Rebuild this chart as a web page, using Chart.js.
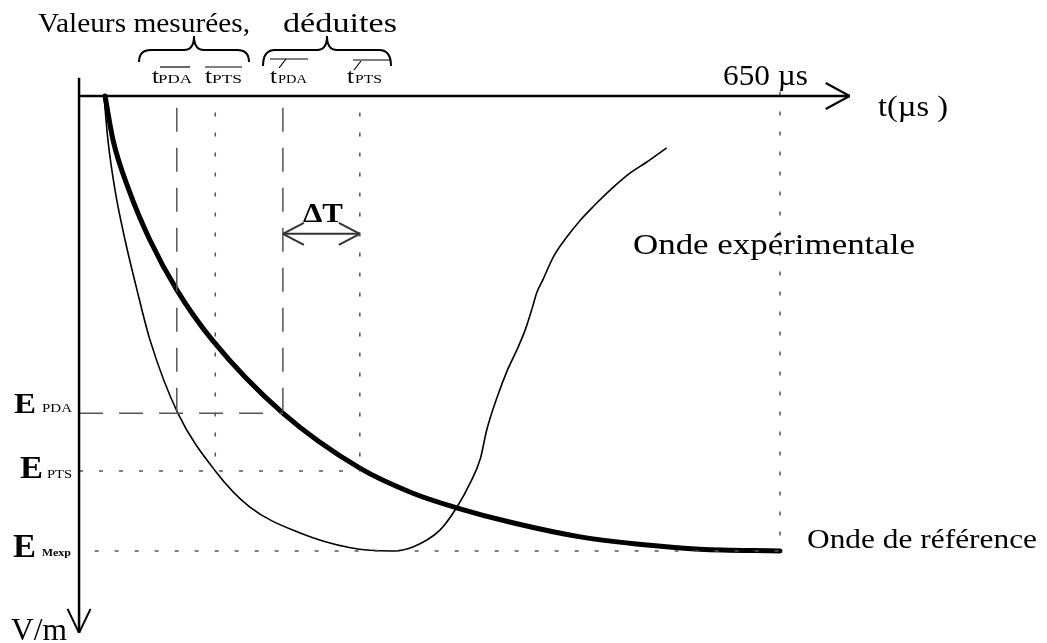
<!DOCTYPE html>
<html>
<head>
<meta charset="utf-8">
<script src="https://cdn.jsdelivr.net/npm/chart.js@4.4.1/dist/chart.umd.min.js"></script>
<style>
  html, body { margin: 0; padding: 0; background: #fff; }
  #wrap { width: 1047px; height: 643px; }
</style>
</head>
<body>
<div id="wrap"><canvas id="schema"></canvas></div>
<script>
// Onde de référence (trait épais) : temps en µs, champ en % de E_Mexp
const refTime  = [1, 8.7, 24, 44, 70, 104, 172, 246, 297, 339, 393, 458, 522, 573, 650];
const refField = [0, 9.7, 20.7, 31.6, 42.6, 53.6, 69.7, 81.8, 87.3, 90.5, 93.8, 96.9, 98.7, 99.6, 100];

// Onde expérimentale (trait fin)
const expTime  = [0, 3.8, 10.6, 20.2, 31.7, 44.2, 71, 107, 140, 188, 237, 277, 297, 323, 339, 352, 362, 368, 378, 388, 397, 405, 412, 416, 422, 432, 445, 458, 470, 489, 506, 522, 541];
const expField = [0, 9.7, 20.7, 31.6, 42.6, 53.6, 69.7, 82.4, 90.3, 96.0, 99.3, 100, 99.1, 95.4, 90.5, 85.1, 79.6, 73.4, 66.2, 60.2, 55.8, 51.4, 46.4, 43.3, 40.4, 35.4, 31.0, 27.3, 24.4, 20.2, 16.9, 14.5, 11.4];

// repères : t_PDA, t_PTS, t'_PDA, t'_PTS, 650 µs
const guideTimes = [70, 107, 172, 246, 650];
// niveaux : E_PDA, E_PTS, E_Mexp
const guideLevels = [69.7, 82.4, 100];

const axisTime = -24;     // position of the vertical axis
const guideTop = 2.6;     // guides start just under the time axis
const deltaLevel = 30.3;  // height of the ΔT arrow

const FONT = '"Liberation Serif", "Times New Roman", Tinos, Times, serif';
const GUIDE = '#555';

function pts(xs, ys) {
    return xs.map((x, i) => ({ x: x, y: ys[i] }));
}

function seg(x1, y1, x2, y2) {
    return [{ x: x1, y: y1 }, { x: x2, y: y2 }];
}

function guide(data, dash) {
    return {
        data: data,
        borderColor: GUIDE,
        borderWidth: 1.5,
        borderDash: dash,
        pointRadius: 0,
        tension: 0
    };
}

const DASH = [24, 16];
const DOT = [4, 16];

const datasets = [
    // dashed : PDA
    guide(seg(guideTimes[0], guideTop, guideTimes[0], guideLevels[0]), DASH),
    guide(seg(guideTimes[2], guideTop, guideTimes[2], guideLevels[0]), DASH),
    guide(seg(axisTime, guideLevels[0], guideTimes[2], guideLevels[0]), DASH),
    // dotted : PTS
    guide(seg(guideTimes[1], guideTop + 1, guideTimes[1], guideLevels[1]), DOT),
    guide(seg(guideTimes[3], guideTop + 1, guideTimes[3], guideLevels[1]), DOT),
    guide(seg(axisTime, guideLevels[1], guideTimes[3], guideLevels[1]), DOT),
    // dotted : E_Mexp and 650 µs
    guide(seg(axisTime + 15, guideLevels[2], guideTimes[4], guideLevels[2]), DOT),
    guide(seg(guideTimes[4], -1, guideTimes[4], guideLevels[2]), DOT),
    {
        label: 'Onde de référence',
        data: pts(refTime, refField),
        borderColor: '#000',
        borderWidth: 5,
        borderCapStyle: 'round',
        pointRadius: 0,
        cubicInterpolationMode: 'monotone'
    },
    {
        label: 'Onde expérimentale',
        data: pts(expTime, expField),
        borderColor: '#000',
        borderWidth: 1.6,
        pointRadius: 0,
        cubicInterpolationMode: 'monotone'
    }
];

// text squeezed / stretched to the width it has in the scan
function fitText(ctx, str, x, y, size, width, bold) {
    ctx.font = (bold ? 'bold ' : '') + size + 'px ' + FONT;
    const w = ctx.measureText(str).width;
    ctx.save();
    ctx.translate(x, y);
    ctx.scale(width / w, 1);
    ctx.fillText(str, 0, 0);
    ctx.restore();
}

function line(ctx, x1, y1, x2, y2) {
    ctx.beginPath();
    ctx.moveTo(x1, y1);
    ctx.lineTo(x2, y2);
    ctx.stroke();
}

function brace(ctx, x1, x2, top, bottom) {
    const mid = (x1 + x2) / 2;
    const shoulder = top + 14;
    ctx.beginPath();
    ctx.moveTo(x1, bottom);
    ctx.quadraticCurveTo(x1, shoulder, x1 + 12, shoulder);
    ctx.lineTo(mid - 10, shoulder);
    ctx.quadraticCurveTo(mid, shoulder, mid, top);
    ctx.quadraticCurveTo(mid, shoulder, mid + 10, shoulder);
    ctx.lineTo(x2 - 12, shoulder);
    ctx.quadraticCurveTo(x2, shoulder, x2, bottom);
    ctx.stroke();
}

const schemaPlugin = {
    id: 'schema',
    afterDraw(chart) {
        const ctx = chart.ctx;
        const xs = chart.scales.x;
        const ys = chart.scales.y;
        const ox = xs.getPixelForValue(axisTime);
        const oy = ys.getPixelForValue(0);

        ctx.save();
        ctx.strokeStyle = '#000';
        ctx.fillStyle = '#000';
        ctx.lineCap = 'butt';

        // axes
        ctx.lineWidth = 2.5;
        const xEnd = xs.getPixelForValue(717);
        const yEnd = ys.getPixelForValue(118);
        line(ctx, ox, oy, xEnd, oy);
        line(ctx, ox, ys.getPixelForValue(-4), ox, yEnd);
        ctx.lineWidth = 2;
        line(ctx, xEnd, oy, xEnd - 24, oy - 13);
        line(ctx, xEnd, oy, xEnd - 24, oy + 13);
        line(ctx, ox, yEnd, ox - 11.5, yEnd - 24);
        line(ctx, ox, yEnd, ox + 11.5, yEnd - 24);

        // ΔT double arrow
        ctx.strokeStyle = '#333';
        const ay = ys.getPixelForValue(deltaLevel);
        const a1 = xs.getPixelForValue(guideTimes[2]);
        const a2 = xs.getPixelForValue(guideTimes[3]);
        line(ctx, a1, ay, a2, ay);
        line(ctx, a1, ay, a1 + 21, ay - 11);
        line(ctx, a1, ay, a1 + 21, ay + 11);
        line(ctx, a2, ay, a2 - 21, ay - 11);
        line(ctx, a2, ay, a2 - 21, ay + 11);
        fitText(ctx, '\u0394T', a1 + 20, ay - 12, 27, 40, true);

        // braces
        ctx.strokeStyle = '#000';
        ctx.lineWidth = 2;
        brace(ctx, 139, 249, 36, 62);
        brace(ctx, 263, 391, 36, 66);

        // header
        fitText(ctx, 'Valeurs mesurées,', 38, 32, 28, 212);
        fitText(ctx, 'déduites', 283, 32, 28, 114);

        // time labels with overlines
        ctx.lineWidth = 1.2;
        const tLabels = [
            { sub: 'PDA', tx: 152, sx: 158, sw: 34, bar: [160, 190, 67], slash: null },
            { sub: 'PTS', tx: 205, sx: 212, sw: 30, bar: [205, 242, 67], slash: null },
            { sub: 'PDA', tx: 270, sx: 278, sw: 29, bar: [270, 308, 59], slash: [279, 68, 286, 59] },
            { sub: 'PTS', tx: 347, sx: 355, sw: 27, bar: [353, 390, 60], slash: [354, 70, 361, 61] }
        ];
        tLabels.forEach(l => {
            fitText(ctx, 't', l.tx, 83, 21, 7);
            fitText(ctx, l.sub, l.sx, 83, 12, l.sw);
            line(ctx, l.bar[0], l.bar[2], l.bar[1], l.bar[2]);
            if (l.slash) line(ctx, l.slash[0], l.slash[1], l.slash[2], l.slash[3]);
        });

        fitText(ctx, '650 µs', 723, 85, 29, 85);
        fitText(ctx, 't(µs )', 878, 116, 29, 70);
        fitText(ctx, 'Onde expérimentale', 633, 254, 30, 282);
        fitText(ctx, 'Onde de référence', 807, 548, 27, 230);

        // field labels
        fitText(ctx, 'E', 14, 413, 30, 22, true);
        fitText(ctx, 'PDA', 42, 412, 12, 30);
        fitText(ctx, 'E', 20, 478, 32, 23, true);
        fitText(ctx, 'PTS', 47, 478, 12, 25);
        fitText(ctx, 'E', 13, 557, 33, 23, true);
        fitText(ctx, 'M', 42, 556, 11, 11, true);
        fitText(ctx, 'exp', 53, 556, 10, 18, true);
        fitText(ctx, 'V/m', 11, 640, 31, 56);

        ctx.restore();
    }
};

function draw() {
    new Chart(document.getElementById('schema'), {
        type: 'line',
        data: { datasets: datasets },
        options: {
            responsive: true,
            maintainAspectRatio: false,
            animation: false,
            events: [],
            layout: { padding: 0 },
            plugins: {
                legend: { display: false },
                tooltip: { enabled: false },
                title: { display: false }
            },
            scales: {
                x: { type: 'linear', display: false, min: -100, max: -100 + 1047 / 1.04 },
                y: { type: 'linear', display: false, reverse: true, min: -96 / 4.55, max: -96 / 4.55 + 643 / 4.55 }
            }
        },
        plugins: [schemaPlugin]
    });
}

// make sure the serif face is ready before measuring text
if (document.fonts && document.fonts.load) {
    Promise.all([
        document.fonts.load('28px "Liberation Serif"'),
        document.fonts.load('bold 28px "Liberation Serif"')
    ]).then(draw, draw);
} else {
    draw();
}
</script>
</body>
</html>
